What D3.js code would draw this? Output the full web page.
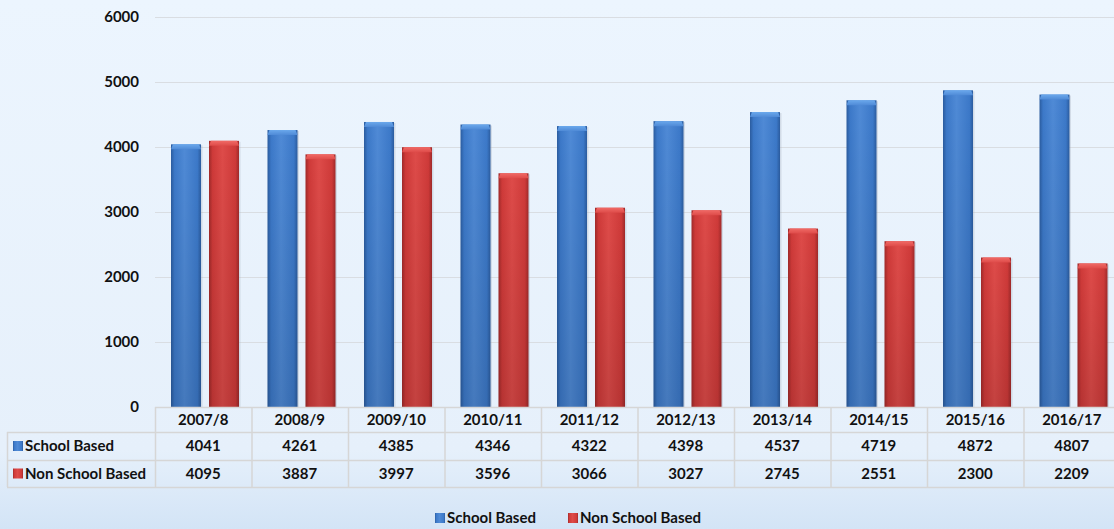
<!DOCTYPE html>
<html>
<head>
<meta charset="utf-8">
<script src="https://cdn.jsdelivr.net/npm/d3@7"></script>
<style>
  body { margin: 0; }
  svg { display: block; font-family: Lato, "Open Sans", sans-serif; font-weight: bold; }
</style>
</head>
<body>
<svg id="chart" width="1114" height="529"></svg>
<script>
// data
var years = ["2007/8", "2008/9", "2009/10", "2010/11", "2011/12", "2012/13", "2013/14", "2014/15", "2015/16", "2016/17"];
var schoolBased = [4041, 4261, 4385, 4346, 4322, 4398, 4537, 4719, 4872, 4807];
var nonSchoolBased = [4095, 3887, 3997, 3596, 3066, 3027, 2745, 2551, 2300, 2209];
var yTicks = [0, 1000, 2000, 3000, 4000, 5000, 6000];

var series = [
    {key: "s", name: "School Based", values: schoolBased, base: "#3c79c9", light: "#4f8ad6", dark: "#2b5c9f", cap: "#6aa8ec"},
    {key: "n", name: "Non School Based", values: nonSchoolBased, base: "#cf3a39", light: "#de4b49", dark: "#a02a2a", cap: "#f06a66"}
];

var width = 1114, height = 529;
var plotLeft = 155, plotRight = 1120, plotTop = 17, plotBottom = 407;
var fs = 15;

var svg = d3.select("#chart");
var defs = svg.append("defs");

// background
var bg = defs.append("linearGradient").attr("id", "bg").attr("x1", 0).attr("y1", 0).attr("x2", 0).attr("y2", 1);
bg.append("stop").attr("offset", "0%").attr("stop-color", "#ecf5fe");
bg.append("stop").attr("offset", "85%").attr("stop-color", "#e6f0fb");
bg.append("stop").attr("offset", "100%").attr("stop-color", "#d3e4f6");
svg.append("rect").attr("width", width).attr("height", height).attr("fill", "url(#bg)");

series.forEach(function(s){
    var g = defs.append("linearGradient").attr("id", "grad_" + s.key);
    g.append("stop").attr("offset", "0%").attr("stop-color", s.dark);
    g.append("stop").attr("offset", "12%").attr("stop-color", s.base);
    g.append("stop").attr("offset", "45%").attr("stop-color", s.light);
    g.append("stop").attr("offset", "88%").attr("stop-color", s.base);
    g.append("stop").attr("offset", "100%").attr("stop-color", s.dark);
    var c = defs.append("linearGradient").attr("id", "cap_" + s.key).attr("x1", 0).attr("y1", 0).attr("x2", 0).attr("y2", 1);
    c.append("stop").attr("offset", "0%").attr("stop-color", s.cap);
    c.append("stop").attr("offset", "100%").attr("stop-color", s.light);
});
var shade = defs.append("linearGradient").attr("id", "shade").attr("x1", 0).attr("y1", 0).attr("x2", 0).attr("y2", 1);
shade.append("stop").attr("offset", "0%").attr("stop-color", "#000").attr("stop-opacity", 0);
shade.append("stop").attr("offset", "100%").attr("stop-color", "#000").attr("stop-opacity", 0.12);

var x = d3.scaleBand().domain(years).range([plotLeft, plotRight]);
var xIn = d3.scaleBand().domain(["s", "n"]).range([16, 84]).paddingInner(0.2105);
var y = d3.scaleLinear().domain([0, 6000]).range([plotBottom, plotTop]);

// grid lines
svg.append("g")
    .selectAll("line")
    .data(yTicks)
    .enter()
    .append("line")
    .attr("x1", plotLeft).attr("x2", plotRight)
    .attr("y1", function(d){ return y(d) + 0.5; })
    .attr("y2", function(d){ return y(d) + 0.5; })
    .attr("stroke", "#d9dde2")
    .attr("stroke-width", 1.2);

// y axis labels
var yAxis = d3.axisLeft(y).tickValues(yTicks).tickFormat(d3.format("d")).tickSize(0).tickPadding(16);
var ya = svg.append("g").attr("transform", "translate(" + plotLeft + ",0)").call(yAxis);
ya.select(".domain").remove();
ya.selectAll("text").attr("font-size", fs).attr("font-family", "Lato, 'Open Sans', sans-serif").attr("font-weight", "bold").attr("fill", "#111");

// bars
var groups = svg.append("g")
    .selectAll(".year")
    .data(years)
    .enter()
    .append("g")
    .attr("class", "year")
    .attr("transform", function(d){ return "translate(" + x(d) + ",0)"; });

series.forEach(function(s){
    var bw = xIn.bandwidth();
    // soft shadow
    groups.append("rect")
        .attr("x", xIn(s.key) + 1.5)
        .attr("y", function(d, i){ return y(s.values[i]) + 1; })
        .attr("width", bw)
        .attr("height", function(d, i){ return plotBottom - y(s.values[i]); })
        .attr("fill", "#9aa7b5")
        .attr("opacity", 0.3);
    groups.append("rect")
        .attr("x", xIn(s.key))
        .attr("y", function(d, i){ return y(s.values[i]); })
        .attr("width", bw)
        .attr("height", function(d, i){ return plotBottom - y(s.values[i]); })
        .attr("fill", "url(#grad_" + s.key + ")");
    groups.append("rect")
        .attr("x", xIn(s.key))
        .attr("y", function(d, i){ return y(s.values[i]); })
        .attr("width", bw)
        .attr("height", function(d, i){ return plotBottom - y(s.values[i]); })
        .attr("fill", "url(#shade)");
    groups.append("path")
        .attr("d", function(d, i){
            var x0 = xIn(s.key), y0 = y(s.values[i]);
            return "M" + x0 + "," + (y0 + 5) + "L" + (x0 + 2) + "," + y0 + "L" + (x0 + bw - 2) + "," + y0 +
                "L" + (x0 + bw) + "," + (y0 + 5) + "Z";
        })
        .attr("fill", "url(#cap_" + s.key + ")");
});

// data table
var rowBot = 487;
var tableLeft = 7;
var tbl = svg.append("g");
var lineColor = "#d6d6d6";

// horizontal lines
tbl.append("line").attr("x1", plotLeft).attr("x2", plotRight).attr("y1", 407.5).attr("y2", 407.5).attr("stroke", lineColor).attr("stroke-width", 1.5);
[432, 460, 487].forEach(function(yy){
    tbl.append("line").attr("x1", tableLeft).attr("x2", plotRight).attr("y1", yy + 0.5).attr("y2", yy + 0.5).attr("stroke", lineColor).attr("stroke-width", 1.5);
});
// vertical lines
tbl.append("line").attr("x1", tableLeft + 0.5).attr("x2", tableLeft + 0.5).attr("y1", 432).attr("y2", rowBot).attr("stroke", lineColor).attr("stroke-width", 1.5);
years.forEach(function(yr){
    tbl.append("line").attr("x1", x(yr) + 0.5).attr("x2", x(yr) + 0.5).attr("y1", 407).attr("y2", rowBot).attr("stroke", lineColor).attr("stroke-width", 1.5);
});

// header text
tbl.selectAll(".hdr")
    .data(years)
    .enter()
    .append("text")
    .attr("x", function(d){ return x(d) + x.bandwidth() / 2; })
    .attr("y", 420)
    .attr("dy", "0.35em")
    .attr("text-anchor", "middle")
    .attr("font-size", fs)
    .attr("fill", "#111")
    .text(function(d){ return d; });

series.forEach(function(s, si){
    var cy = si === 0 ? 446 : 473.5;
    tbl.selectAll(".val" + s.key)
        .data(s.values)
        .enter()
        .append("text")
        .attr("x", function(d, i){ return x(years[i]) + x.bandwidth() / 2; })
        .attr("y", cy)
        .attr("dy", "0.35em")
        .attr("text-anchor", "middle")
        .attr("font-size", fs)
        .attr("fill", "#111")
        .text(function(d){ return d; });
    tbl.append("rect")
        .attr("x", 13).attr("y", cy - 5).attr("width", 10).attr("height", 10)
        .attr("fill", "url(#grad_" + s.key + ")");
    tbl.append("text")
        .attr("x", 25).attr("y", cy).attr("dy", "0.35em")
        .attr("font-size", fs).attr("fill", "#111")
        .text(s.name);
});

// legend
var legend = svg.append("g").attr("transform", "translate(0,518)");
var lx = [435, 568];
series.forEach(function(s, si){
    legend.append("rect")
        .attr("x", lx[si]).attr("y", -5).attr("width", 10).attr("height", 10)
        .attr("fill", "url(#grad_" + s.key + ")");
    legend.append("text")
        .attr("x", lx[si] + 12).attr("y", 0).attr("dy", "0.35em")
        .attr("font-size", fs).attr("fill", "#111")
        .text(s.name);
});
</script>
</body>
</html>
